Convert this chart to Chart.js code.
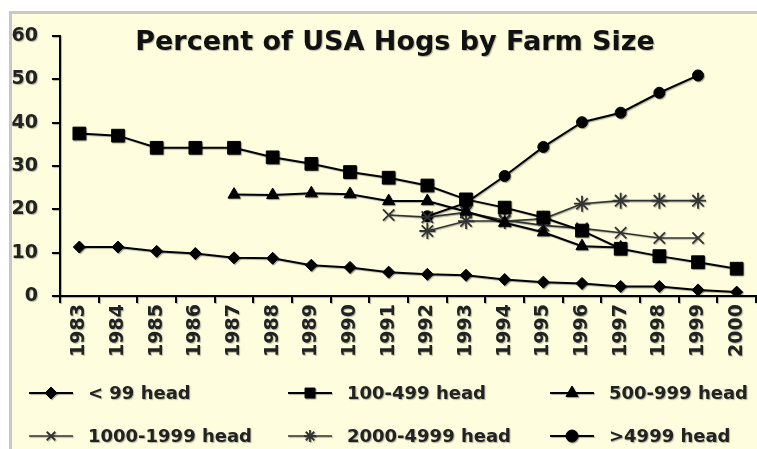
<!DOCTYPE html>
<html>
<head>
<meta charset="utf-8">
<script src="https://cdn.jsdelivr.net/npm/chart.js@4.4.1/dist/chart.umd.min.js"></script>
<style>
  html, body { margin: 0; padding: 0; overflow: hidden; background: #fff; }
  #wrap { width: 757px; height: 449px; overflow: hidden; }
</style>
</head>
<body>
<div id="wrap"><canvas id="chart" width="766" height="449"></canvas></div>
<script>
// data (percent of hogs)
const years = ['1983', '1984', '1985', '1986', '1987', '1988', '1989', '1990', '1991',
  '1992', '1993', '1994', '1995', '1996', '1997', '1998', '1999', '2000'];
const yTicks = [0, 10, 20, 30, 40, 50, 60];

const under99 = [11.3, 11.3, 10.3, 9.8, 8.8, 8.7, 7.1, 6.6, 5.5, 5.0, 4.8, 3.8, 3.2, 2.9, 2.2, 2.2, 1.4, 0.9];
const head100to499 = [37.5, 37.0, 34.2, 34.2, 34.2, 32.0, 30.5, 28.6, 27.3, 25.5, 22.3, 20.4, 18.1, 15.1, 10.9, 9.2, 7.8, 6.3];
const head500to999 = [null, null, null, null, 23.4, 23.3, 23.7, 23.5, 21.9, 21.9, 19.5, 16.9, 14.7, 11.5, 11.2, null, null, null];
const head1000to1999 = [null, null, null, null, null, null, null, null, 18.7, 18.2, 19.3, 17.5, 16.3, 15.6, 14.6, 13.4, 13.4, null];
const head2000to4999 = [null, null, null, null, null, null, null, null, null, 15.0, 17.3, 17.3, 17.8, 21.3, 22.0, 22.0, 22.0, null];
const over4999 = [null, null, null, null, null, null, null, null, null, 18.4, 21.5, 27.7, 34.4, 40.1, 42.3, 46.9, 50.9, null];

const seriesLabels = ['< 99 head', '100-499 head', '500-999 head', '1000-1999 head', '2000-4999 head', '>4999 head'];

const FONT = '"DejaVu Sans", sans-serif';

function series(label, data, style, radius, color, width) {
  return {
    label: label,
    data: data,
    borderColor: color,
    backgroundColor: color,
    borderWidth: width,
    pointStyle: style,
    pointRadius: radius,
    pointBorderWidth: style.startsWith('cross') || style === 'star' ? 1.8 : 1,
    pointBorderColor: color,
    pointBackgroundColor: color,
    tension: 0,
    spanGaps: false
  };
}

const datasets = [
  series(seriesLabels[0], under99, 'rectRot', 6, '#000', 2),
  series(seriesLabels[1], head100to499, 'rect', 9, '#000', 2),
  series(seriesLabels[2], head500to999, 'triangle', 7, '#000', 2),
  series(seriesLabels[3], head1000to1999, 'crossRot', 8, '#333', 1.6),
  series(seriesLabels[4], head2000to4999, 'star', 8, '#333', 1.6),
  series(seriesLabels[5], over4999, 'circle', 5.5, '#000', 2)
];

// frame, shadow, title and legend
const decor = {
  id: 'decor',
  beforeDraw(chart) {
    const ctx = chart.ctx;
    ctx.save();
    ctx.fillStyle = '#fff';
    ctx.fillRect(0, 0, chart.width, chart.height);
    ctx.fillStyle = '#FEFEDE';
    ctx.fillRect(10, 12, chart.width, chart.height);
    ctx.strokeStyle = '#c8c8c8';
    ctx.lineWidth = 3;
    ctx.strokeRect(10.5, 12.5, chart.width + 10, chart.height + 10);
    ctx.restore();

    ctx.save();
    ctx.shadowColor = 'rgba(0,0,0,0.3)';
    ctx.shadowOffsetX = 1;
    ctx.shadowOffsetY = 1;
    ctx.shadowBlur = 1;
  },
  afterDraw(chart) {
    const ctx = chart.ctx;
    ctx.fillStyle = '#111';
    ctx.font = 'bold 27px ' + FONT;
    ctx.textAlign = 'center';
    ctx.textBaseline = 'alphabetic';
    ctx.fillText('Percent of USA Hogs by Farm Size', 395, 50);

    const colX = [29, 288, 550];
    const rowY = [393, 436];
    const sizes = [6, 7, 7, 6, 6, 6];
    ctx.font = 'bold 18px ' + FONT;
    ctx.textAlign = 'left';
    ctx.textBaseline = 'middle';
    chart.data.datasets.forEach((ds, i) => {
      const x = colX[i % 3];
      const y = rowY[Math.floor(i / 3)];
      ctx.strokeStyle = ds.borderColor;
      ctx.fillStyle = ds.borderColor;
      ctx.lineWidth = ds.borderWidth;
      ctx.beginPath();
      ctx.moveTo(x, y);
      ctx.lineTo(x + 44, y);
      ctx.stroke();
      ctx.lineWidth = ds.pointBorderWidth;
      Chart.helpers.drawPoint(ctx, {
        pointStyle: ds.pointStyle, radius: sizes[i], rotation: 0, borderWidth: ds.pointBorderWidth
      }, x + 22, y);
      ctx.fillStyle = '#222';
      ctx.fillText(ds.label, x + 59, y + 1);
    });
    ctx.restore();
  }
};

const ctx = document.getElementById('chart').getContext('2d');
const chart = new Chart(ctx, {
  type: 'line',
  data: { labels: years, datasets: datasets },
  options: {
    responsive: false,
    animation: false,
    layout: { padding: { left: 0, right: 3.5, top: 36, bottom: 92 } },
    plugins: {
      legend: { display: false },
      title: { display: false },
      tooltip: { enabled: false }
    },
    scales: {
      x: {
        type: 'category',
        offset: true,
        grid: { offset: true, drawOnChartArea: false, drawTicks: true, tickLength: 7, color: '#000', lineWidth: 2 },
        border: { display: true, color: '#000', width: 2 },
        ticks: {
          minRotation: 90, maxRotation: 90, autoSkip: false, padding: 1,
          color: '#222', font: { family: FONT, size: 19, weight: 'bold' }
        },
        afterFit(scale) { scale.height = 61; }
      },
      y: {
        min: 0, max: 60,
        afterBuildTicks(scale) { scale.ticks = yTicks.map(v => ({ value: v })); },
        grid: { drawOnChartArea: false, drawTicks: true, tickLength: 8, color: '#000', lineWidth: 2 },
        border: { display: true, color: '#000', width: 2 },
        ticks: {
          padding: 14, color: '#222',
          font: { family: FONT, size: 19, weight: 'bold' }
        },
        afterFit(scale) { scale.width = 60; }
      }
    }
  },
  plugins: [decor]
});
</script>
</body>
</html>
